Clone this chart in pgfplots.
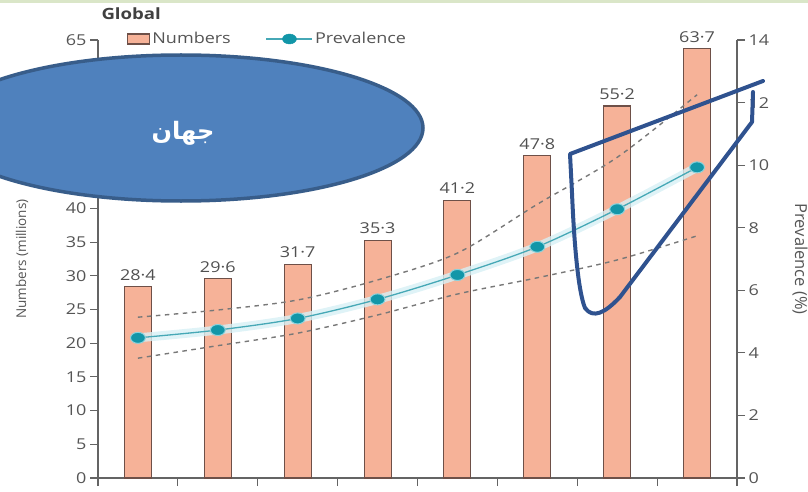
\documentclass[border=0pt]{standalone}
\usepackage{fontspec}
\setmainfont{Open Sans}[FakeStretch=1.2]
\newfontfamily\plainfont{Open Sans}
\newfontfamily\arabicfont[Script=Arabic]{DejaVu Sans}
\usepackage{pgfplots}
\pgfplotsset{compat=1.18}
\TeXXeTstate=1
\definecolor{barfill}{RGB}{246,178,152}
\definecolor{baredge}{RGB}{110,80,72}
\definecolor{axisgray}{RGB}{100,100,100}
\definecolor{tickgray}{RGB}{85,85,85}
\definecolor{labelgray}{RGB}{80,80,80}
\definecolor{lineteal}{RGB}{70,168,182}
\definecolor{markteal}{RGB}{18,150,168}
\definecolor{markhalo}{RGB}{140,210,220}
\definecolor{halo}{RGB}{215,240,245}
\definecolor{dashgray}{RGB}{120,120,120}
\definecolor{ellipsefill}{RGB}{79,129,189}
\definecolor{ellipseedge}{RGB}{56,93,138}
\definecolor{handblue}{RGB}{47,82,143}
\definecolor{topgreen}{RGB}{218,230,200}
\begin{document}
\begin{tikzpicture}
\path[use as bounding box] (0pt,0pt) rectangle (808pt,491pt);
\fill[topgreen] (0pt,488pt) rectangle (808pt,491pt);
\begin{axis}[
  at={(98pt,13pt)}, anchor=south west, scale only axis,
  width=639pt, height=438pt,
  xmin=-0.5, xmax=7.5, ymin=0, ymax=65,
  axis y line*=left, axis x line*=bottom,
  xtick={-0.5,0.5,...,7.5}, xticklabels={},
  ytick={0,5,...,65},
  tick align=outside, major tick length=8pt,
  axis line style={draw=axisgray, line width=1.1pt},
  every tick/.style={draw=axisgray, line width=1.1pt},
  tick label style={font=\fontsize{15}{15}\selectfont, text=tickgray},
  /pgf/number format/assume math mode=true,
  ylabel={Numbers (millions)},
  ylabel style={at={(axis description cs:-0.119,0.5)}, anchor=center, font=\plainfont\fontsize{13.5}{13.5}\selectfont, text=tickgray},
  clip=false,
  legend style={font=\fontsize{15}{15}\selectfont, text=tickgray, draw=none, fill=none,
    legend columns=2, at={(axis description cs:0,1)}, anchor=west, xshift=26pt, yshift=1pt,
    /tikz/every even column/.append style={column sep=33pt}},
]
\addplot[ybar, bar width=27pt, fill=barfill, draw=baredge, line width=1.1pt, forget plot,
  nodes near coords,
  every node near coord/.append style={font=\fontsize{15}{15}\selectfont, text=labelgray, yshift=2.5pt},
  /pgf/number format/.cd, fixed, fixed zerofill, precision=1, set decimal separator={·}]
  coordinates {(0,28.4) (1,29.6) (2,31.7) (3,35.3) (4,41.2) (5,47.8) (6,55.2) (7,63.7)};
\addlegendimage{legend image code/.code={\draw[fill=barfill,draw=baredge,line width=1.2pt] (0pt,-5pt) rectangle (22pt,5pt);}}
\addlegendentry{Numbers}
\addlegendimage{legend image code/.code={\draw[lineteal,line width=1.3pt] (0pt,0pt) -- (46pt,0pt); \fill[markteal] (23pt,0pt) ellipse (7pt and 5pt);}}
\addlegendentry{Prevalence}
\node[anchor=west, font=\bfseries\fontsize{15.5}{15.5}\selectfont, text=black!75] at (axis description cs:0,1) [yshift=26pt] {Global};
\end{axis}
\begin{axis}[
  at={(98pt,13pt)}, anchor=south west, scale only axis,
  width=639pt, height=438pt,
  xmin=-0.5, xmax=7.5, ymin=0, ymax=14,
  axis y line*=right, axis x line=none,
  ytick={0,2,...,14},
  tick align=outside, major tick length=8pt,
  axis line style={draw=axisgray, line width=1.1pt},
  every tick/.style={draw=axisgray, line width=1.1pt},
  tick label style={font=\fontsize{15}{15}\selectfont, text=tickgray},
  /pgf/number format/assume math mode=true,
  clip=false,
]
\addplot[dashgray, line width=1.4pt, dash pattern=on 4.5pt off 4.5pt, smooth] coordinates {(0,5.14) (1,5.37) (2,5.69) (3,6.33) (4,7.19) (5,8.75) (6,10.25) (7,12.25)};
\addplot[dashgray, line width=1.4pt, dash pattern=on 4.5pt off 4.5pt, smooth] coordinates {(0,3.83) (1,4.23) (2,4.63) (3,5.21) (4,5.88) (5,6.40) (6,6.97) (7,7.74)};
\addplot[halo, line width=9pt, smooth, opacity=0.8] coordinates {(0,4.48) (1,4.73) (2,5.10) (3,5.71) (4,6.49) (5,7.39) (6,8.59) (7,9.93)};
\addplot[lineteal, line width=1.3pt, smooth, mark=*, mark size=5.5pt,
  mark options={fill=markteal, draw=markhalo, line width=1pt, xscale=1.35}]
  coordinates {(0,4.48) (1,4.73) (2,5.10) (3,5.71) (4,6.49) (5,7.39) (6,8.59) (7,9.93)};
\node[rotate=-90, font=\plainfont\fontsize{16.5}{16.5}\selectfont, text=tickgray] at (axis description cs:1.0986,0.5) {Prevalence (\%)};
\end{axis}
\draw[ellipseedge, line width=3.5pt, fill=ellipsefill] (181pt,363pt) ellipse (242pt and 73pt);
\node[text=white, font=\arabicfont\bfseries\fontsize{24}{24}\selectfont] at (183pt,358pt) {\beginR جهان\endR};
\draw[handblue, line width=4pt, line join=round, line cap=round]
  (753pt,399pt) -- (752pt,369pt) -- (620pt,194pt)
  .. controls (605pt,178pt) and (593pt,172pt) .. (585pt,183pt)
  .. controls (578pt,200pt) and (574pt,250pt) .. (572pt,298pt)
  -- (570pt,337pt) -- (763pt,410pt);
\end{tikzpicture}
\end{document}
